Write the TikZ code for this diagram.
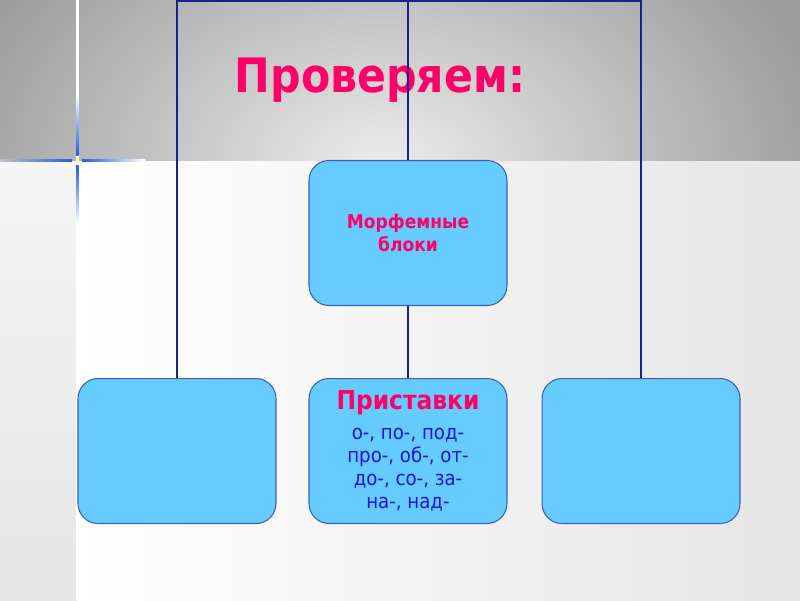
\documentclass[tikz,border=0pt]{standalone}
\usepackage{fontspec}
\setmainfont{DejaVu Sans Condensed}
\usetikzlibrary{positioning}
\definecolor{boxfill}{HTML}{66CCFF}
\definecolor{boxline}{HTML}{3A5FB5}
\definecolor{linkblue}{HTML}{1E1E8C}
\definecolor{titlepink}{HTML}{FF0066}
\definecolor{prefixblue}{HTML}{1414E6}
\definecolor{glintblue}{HTML}{1F5FE0}
\pgfdeclareradialshading{bandglow}{\pgfpoint{0bp}{0bp}}{color(0bp)=(black!7); color(12.5bp)=(black!39); color(50bp)=(black!39)}

\begin{document}
\begin{tikzpicture}[x=0.02cm, y=-0.02cm,
  block/.style={draw=boxline, line width=0.6pt, fill=boxfill, rounded corners=0.4cm,
    minimum width=3.96cm, minimum height=2.9cm, inner sep=0pt, align=center},
  link/.style={draw=linkblue, line width=1.1pt}]
\useasboundingbox (0,0) rectangle (800,600);

% Background
\shade[left color=white, right color=black!10] (77,160) rectangle (800,600);
\shade[top color=black!4, bottom color=black!10] (0,160) rectangle (77,600);
\begin{scope}
\clip (0,0) rectangle (800,160);
\shade[shading=bandglow] (385,168) ellipse [x radius=18cm, y radius=12.4cm];
\end{scope}
\fill[white] (76,0) rectangle (78.5,600);
% Glint
\shade[left color=black!25, right color=glintblue] (0,159) rectangle (72,161.5);
\shade[left color=glintblue, right color=white] (82,159) rectangle (145,161.5);
\shade[top color=white, bottom color=glintblue] (76,95) rectangle (78.5,155);
\shade[top color=glintblue, bottom color=white] (76,165) rectangle (78.5,225);
\fill[yellow!40!white] (76,157) rectangle (78.5,163);

% Title
\node[font=\bfseries\fontsize{27}{32}\selectfont, text=titlepink, anchor=base] (title) at (380,92) {Проверяем:};

% Boxes
\node[block, font=\bfseries\fontsize{10.8}{13.2}\selectfont, text=titlepink] (blocks) at (408,233) {Морфемные\\блоки};
\node[block, below=1.44cm of blocks, text=prefixblue, font=\fontsize{11.5}{13.2}\selectfont] (pfx)
  {\textcolor{titlepink}{\bfseries\fontsize{14.8}{18}\selectfont Приставки}\\[3.6pt]о-, по-, под-\\про-, об-, от-\\до-, со-, за-\\на-, над-};
\node[block, left=0.64cm of pfx] (leftbox) {};
\node[block, right=0.68cm of pfx] (rightbox) {};

% Connectors
\coordinate (ceiling) at (408,1);
\draw[link] (blocks.north) -- (ceiling);
\draw[link] (blocks.south) -- (pfx.north);
\draw[link] (leftbox.north) |- (ceiling) -| (rightbox.north);

\end{tikzpicture}
\end{document}
